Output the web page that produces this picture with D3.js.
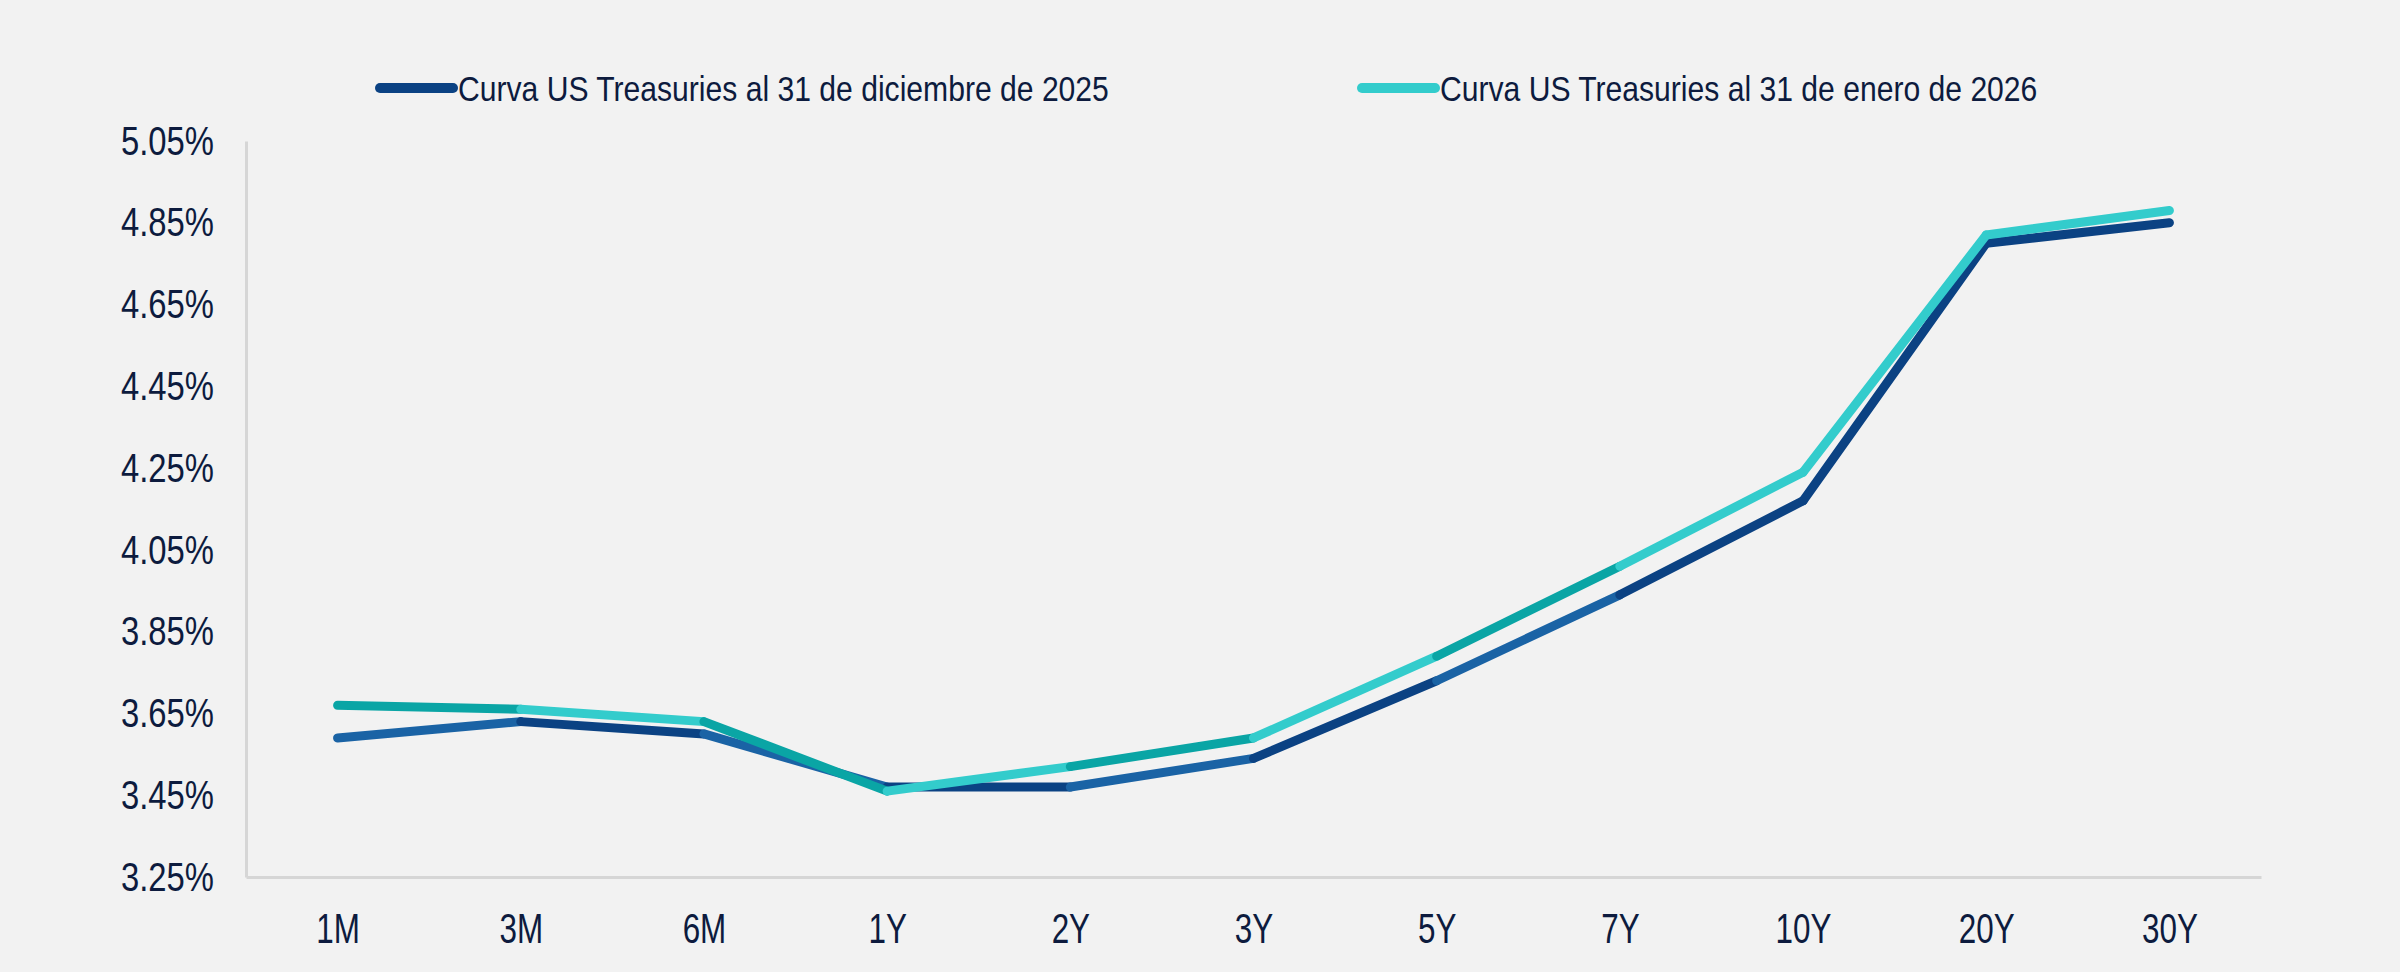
<!DOCTYPE html>
<html>
<head>
<meta charset="utf-8">
<script src="https://cdn.jsdelivr.net/npm/d3@7"></script>
<style>
  html, body { margin: 0; padding: 0; background: #f2f2f2; }
  svg { display: block; }
  text { font-family: "Liberation Sans", Arial, sans-serif; fill: #0d1b3e; }
</style>
</head>
<body>
<svg id="chart"></svg>
<script>
var tenors = ["1M", "3M", "6M", "1Y", "2Y", "3Y", "5Y", "7Y", "10Y", "20Y", "30Y"];
var dic2025 = [3.59, 3.63, 3.60, 3.47, 3.47, 3.54, 3.73, 3.94, 4.17, 4.80, 4.85];
var ene2026 = [3.67, 3.66, 3.63, 3.46, 3.52, 3.59, 3.79, 4.01, 4.24, 4.82, 4.88];
var yTicks = [3.25, 3.45, 3.65, 3.85, 4.05, 4.25, 4.45, 4.65, 4.85, 5.05];
var seriesNames = ["Curva US Treasuries al 31 de diciembre de 2025", "Curva US Treasuries al 31 de enero de 2026"];

var width = 2400,
    height = 972;

// each series alternates two shades segment by segment
var series = [
    {name: seriesNames[0], values: dic2025, main: "#0b4283", alt: "#1a63a5"},
    {name: seriesNames[1], values: ene2026, main: "#33cccc", alt: "#0aa5a5"}
];
var useAlt = [1, 0, 1, 0, 1, 0, 1, 0, 0, 0];

// the original font is a narrow sans, squeeze the glyphs to match
function squeeze(sel, factor){
    sel.each(function(){
        var w = this.getComputedTextLength();
        d3.select(this)
            .attr("textLength", w * factor)
            .attr("lengthAdjust", "spacingAndGlyphs");
    });
}

var svg = d3.select("#chart")
    .attr("width", width)
    .attr("height", height);

var x = d3.scalePoint()
    .domain(tenors)
    .range([246, 2261])
    .padding(0.5);

var y = d3.scaleLinear()
    .domain([3.25, 5.05])
    .range([877, 141]);

var yAxis = svg.append("g")
    .attr("transform", "translate(246,0)")
    .call(d3.axisLeft(y)
        .tickValues(yTicks)
        .tickSize(0)
        .tickPadding(32)
        .tickFormat(function(d){ return d.toFixed(2) + "%"; }));

var xAxis = svg.append("g")
    .attr("transform", "translate(0,877)")
    .call(d3.axisBottom(x)
        .tickSize(0)
        .tickPadding(35));

svg.selectAll(".domain")
    .attr("stroke", "#d6d6d6")
    .attr("stroke-width", 3);

svg.selectAll(".tick text").attr("fill", "#0d1b3e").attr("font-family", null);
yAxis.selectAll("text").style("font-size", "41px").call(squeeze, 0.8);
xAxis.selectAll("text").style("font-size", "43px").call(squeeze, 0.73);

series.forEach(function(s){
    var g = svg.append("g");
    for(var i = 0; i < s.values.length - 1; i++){
        g.append("line")
            .attr("x1", x(tenors[i]))
            .attr("y1", y(s.values[i]))
            .attr("x2", x(tenors[i + 1]))
            .attr("y2", y(s.values[i + 1]))
            .attr("stroke", useAlt[i] ? s.alt : s.main)
            .attr("stroke-width", 9)
            .attr("stroke-linecap", "round");
    }
});

// legend
var legendX = [380, 1362];
series.forEach(function(s, i){
    var lg = svg.append("g").attr("transform", "translate(" + legendX[i] + ",88)");
    lg.append("line")
        .attr("x1", 0).attr("x2", 73)
        .attr("stroke", s.main)
        .attr("stroke-width", 10)
        .attr("stroke-linecap", "round");
    lg.append("text")
        .attr("x", 78)
        .attr("dy", "0.36em")
        .style("font-size", "35px")
        .text(s.name)
        .call(squeeze, 0.86);
});
</script>
</body>
</html>
